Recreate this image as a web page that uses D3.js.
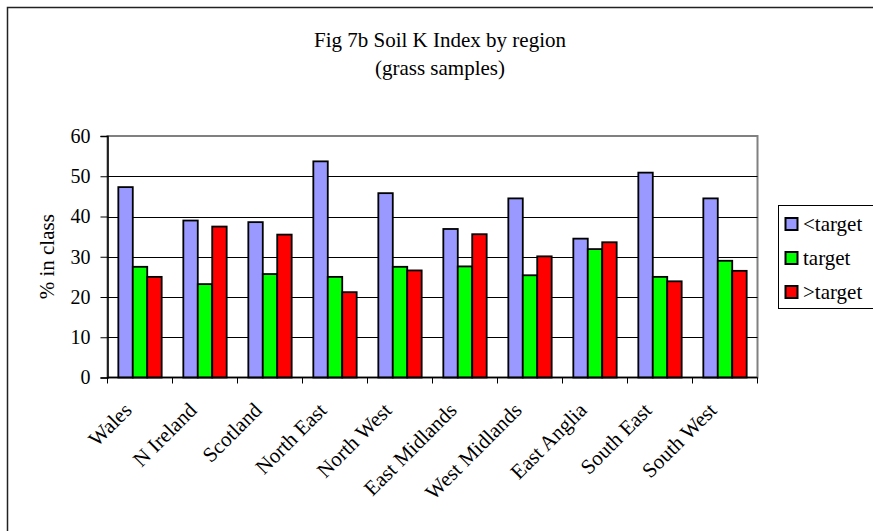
<!DOCTYPE html>
<html>
<head>
<meta charset="utf-8">
<script src="https://cdn.jsdelivr.net/npm/d3@7"></script>
<style>
  html, body { margin: 0; padding: 0; background: #fff; }
</style>
</head>
<body>
<svg id="chart" width="873" height="531"></svg>
<script>
const categories = ["Wales", "N Ireland", "Scotland", "North East", "North West",
  "East Midlands", "West Midlands", "East Anglia", "South East", "South West"];
const seriesNames = ["<target", "target", ">target"];
const belowTarget = [47.3, 39.0, 38.6, 53.7, 45.8, 36.9, 44.5, 34.5, 50.9, 44.5];
const atTarget    = [27.5, 23.2, 25.7, 25.0, 27.5, 27.6, 25.4, 31.9, 25.0, 29.0];
const aboveTarget = [25.0, 37.5, 35.5, 21.2, 26.6, 35.6, 30.1, 33.6, 23.9, 26.5];
const seriesColors = ["#9999FF", "#00FF00", "#FF0000"];
const yTicks = [0, 10, 20, 30, 40, 50, 60];
const titleLines = ["Fig 7b Soil K Index by region", "(grass samples)"];
const yAxisTitle = "% in class";

const seriesValues = [belowTarget, atTarget, aboveTarget];
const FONT = "Liberation Serif";

const svg = d3.select("#chart");

// outer chart border (extends past the picture)
svg.append("rect").attr("x", 7.5).attr("y", 7.5).attr("width", 900).attr("height", 600)
  .attr("fill", "#fff").attr("stroke", "#222").attr("stroke-width", 1.5);

const plot = { left: 107.5, right: 757.5, top: 136, bottom: 377.5 };

const x0 = d3.scaleBand().domain(categories).range([plot.left, plot.right]);
// Excel-style gap width 150%: bar = bandwidth / 4.5
const barW = x0.bandwidth() / 4.5;
const groupOffset = (x0.bandwidth() - 3 * barW) / 2;
const y = d3.scaleLinear().domain([0, 60]).range([plot.bottom, plot.top]);

// plot area border (gray)
svg.append("rect").attr("x", plot.left).attr("y", plot.top)
  .attr("width", plot.right - plot.left).attr("height", plot.bottom - plot.top)
  .attr("fill", "#fff").attr("stroke", "#808080").attr("stroke-width", 2);

// gridlines
svg.append("g").selectAll("line").data(yTicks.filter(d => d > 0 && d < 60)).join("line")
  .attr("x1", plot.left).attr("x2", plot.right)
  .attr("y1", d => Math.round(y(d)) + 0.5).attr("y2", d => Math.round(y(d)) + 0.5)
  .attr("stroke", "#000").attr("stroke-width", 1);

// bars
const groups = svg.append("g").selectAll("g").data(categories).join("g")
  .attr("transform", d => `translate(${x0(d) + groupOffset},0)`);
groups.selectAll("rect").data((d, i) => seriesValues.map((vals, s) => ({ s, v: vals[i] }))).join("rect")
  .attr("x", d => d.s * barW)
  .attr("y", d => y(d.v))
  .attr("width", barW)
  .attr("height", d => y(0) - y(d.v))
  .attr("fill", d => seriesColors[d.s])
  .attr("stroke", "#000").attr("stroke-width", 1.8);

// y axis
const yAxis = d3.axisLeft(y).tickValues(yTicks).tickSize(7).tickPadding(10).tickFormat(d3.format("d"));
const yg = svg.append("g").attr("transform", `translate(${plot.left},0)`).call(yAxis);
yg.select(".domain").attr("stroke", "#000").attr("stroke-width", 1.5);
yg.selectAll(".tick line").attr("stroke", "#000");
yg.selectAll(".tick text").attr("fill", "#000")
  .style("font-family", FONT).style("font-size", "20px");

// x axis (ticks at category boundaries)
const xg = svg.append("g").attr("transform", `translate(0,${plot.bottom})`);
xg.append("line").attr("x1", plot.left).attr("x2", plot.right).attr("y1", 0).attr("y2", 0)
  .attr("stroke", "#000").attr("stroke-width", 1.5);
const boundaries = categories.map(c => x0(c)).concat([x0(categories[categories.length - 1]) + x0.bandwidth()]);
xg.selectAll("line.tk").data(boundaries).join("line").attr("class", "tk")
  .attr("x1", d => d).attr("x2", d => d).attr("y1", 0).attr("y2", 6)
  .attr("stroke", "#000").attr("stroke-width", 1);
xg.selectAll("text").data(categories).join("text")
  .attr("transform", d => `translate(${x0(d) + x0.bandwidth() / 2 - 7},${34}) rotate(-45)`)
  .attr("text-anchor", "end")
  .attr("fill", "#000")
  .style("font-family", FONT).style("font-size", "21px")
  .text(d => d);

// y axis title
svg.append("text")
  .attr("transform", `translate(54,${(plot.top + plot.bottom) / 2}) rotate(-90)`)
  .attr("text-anchor", "middle").attr("fill", "#000")
  .style("font-family", FONT).style("font-size", "21px")
  .text(yAxisTitle);

// title
svg.append("g").selectAll("text").data(titleLines).join("text")
  .attr("x", 440).attr("y", (d, i) => 47 + i * 27.5)
  .attr("text-anchor", "middle").attr("fill", "#000")
  .style("font-family", FONT).style("font-size", "21px")
  .text(d => d);

// legend
const lg = svg.append("g");
lg.append("rect").attr("x", 778.5).attr("y", 205.5).attr("width", 120).attr("height", 103)
  .attr("fill", "#fff").attr("stroke", "#000").attr("stroke-width", 1);
const items = lg.selectAll("g").data(seriesNames).join("g")
  .attr("transform", (d, i) => `translate(0,${224 + i * 34})`);
items.append("rect").attr("x", 785.5).attr("y", -6).attr("width", 12).attr("height", 12)
  .attr("fill", (d, i) => seriesColors[i]).attr("stroke", "#000").attr("stroke-width", 2);
items.append("text").attr("x", 803).attr("y", 7).attr("fill", "#000")
  .style("font-family", FONT).style("font-size", "21px")
  .text(d => d);
</script>
</body>
</html>
